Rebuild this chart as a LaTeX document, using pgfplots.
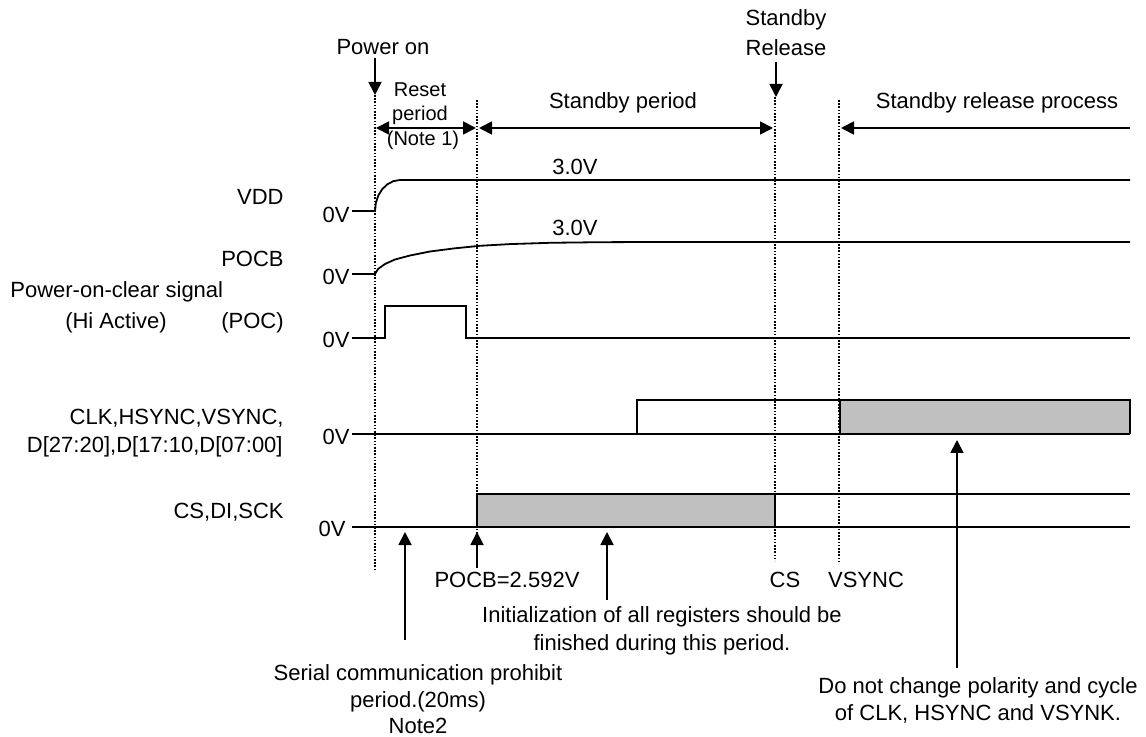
\documentclass[border=0pt]{standalone}
\usepackage{pgfplots}
\pgfplotsset{compat=1.18}
\usepackage{fontspec}
\setmainfont{Liberation Sans}
\usetikzlibrary{arrows.meta}
\definecolor{boxgray}{RGB}{192,192,192}
\begin{document}
\begin{tikzpicture}
\begin{axis}[
  width=573pt, height=368.5pt, scale only axis,
  xmin=0, xmax=1146, ymin=0, ymax=737, y dir=reverse,
  hide axis, clip=false,
  every axis plot/.append style={no markers},
]
% invisible frame to fix bounding box
\addplot[draw=none] coordinates {(0,0) (1146,737)};
% ---- grey areas ----
\addplot[fill=boxgray, draw=none] coordinates {(840,400) (1130,400) (1130,434) (840,434)} -- cycle;
\addplot[fill=boxgray, draw=none] coordinates {(477,494) (775,494) (775,527) (477,527)} -- cycle;
% ---- dotted guide lines ----
\tikzset{guide/.style={black, line width=0.7pt, dash pattern=on 0.8pt off 0.8pt}}
\addplot[guide] coordinates {(375,95) (375,571)};
\addplot[guide] coordinates {(477,100) (477,540)};
\addplot[guide] coordinates {(775,97) (775,561)};
\addplot[guide] coordinates {(839,100) (839,563)};
% ---- VDD ----
\addplot[black, line width=0.9pt] coordinates {(352,211) (375,211) (375.85,203) (378.3,195.5) (382.3,189.1) (387.5,184.2) (393.5,181.1) (400,180) (1130,180)};
% ---- POCB ----
\addplot[black, line width=0.9pt] coordinates {(352,274) (375,274) (378,269) (385,264) (395,259.5) (410,255.5) (430,251.5) (455,248.3) (480,245.8) (510,244.1) (550,242.8) (600,242.2) (650,242) (1130,242)};
% ---- POC ----
\addplot[black, line width=0.9pt] coordinates {(352,338) (385,338) (385,306) (466,306) (466,338) (1130,338)};
% ---- CLK ----
\addplot[black, line width=0.9pt] coordinates {(352,434) (1130,434)};
\addplot[black, line width=0.9pt] coordinates {(637,434) (637,400) (1130,400) (1130,434)};
\addplot[black, line width=0.9pt] coordinates {(840,400) (840,434)};
% ---- CS ----
\addplot[black, line width=0.9pt] coordinates {(352,527) (1130,527)};
\addplot[black, line width=0.9pt] coordinates {(477,527) (477,494) (1130,494)};
\addplot[black, line width=0.9pt] coordinates {(775,494) (775,527)};
% ---- arrows ----
\tikzset{hd/.tip={Triangle[length=6.5pt,width=6.5pt]}}
\addplot[black, line width=0.9pt, -hd] coordinates {(375,58) (375,95)};
\addplot[black, line width=0.9pt, -hd] coordinates {(776,62) (776,97)};
\addplot[black, line width=0.9pt, hd-hd] coordinates {(376,128) (476,128)};
\addplot[black, line width=0.9pt, hd-hd] coordinates {(479,128) (773,128)};
\addplot[black, line width=0.9pt, hd-] coordinates {(841,128) (1130,128)};
\addplot[black, line width=0.9pt, -hd] coordinates {(405,640) (405,532)};
\addplot[black, line width=0.9pt, -hd] coordinates {(477,568) (477,532)};
\addplot[black, line width=0.9pt, -hd] coordinates {(607,600) (607,532)};
\addplot[black, line width=0.9pt, -hd] coordinates {(957,668) (957,440)};
% ---- texts ----
\tikzset{lbl/.style={font=\fontsize{11}{13}\selectfont, inner sep=0pt}, sml/.style={font=\fontsize{10}{12}\selectfont, inner sep=0pt}}
\node[lbl] at (axis cs:383,47) {Power on};
\node[sml] at (axis cs:420,90) {Reset};
\node[sml] at (axis cs:420,115) {period};
\node[sml] at (axis cs:423,140) {(Note 1)};
\node[lbl] at (axis cs:623,103) {Standby period};
\node[lbl] at (axis cs:786,20) {Standby};
\node[lbl] at (axis cs:786,48) {Release};
\node[lbl] at (axis cs:997,103) {Standby release process};
\node[lbl] at (axis cs:575,167) {3.0V};
\node[lbl] at (axis cs:575,228) {3.0V};
\node[lbl, anchor=east] at (axis cs:284,197) {VDD};
\node[lbl, anchor=east] at (axis cs:284,259) {POCB};
\node[lbl, anchor=west] at (axis cs:10,292) {Power-on-clear signal};
\node[lbl] at (axis cs:116,323) {(Hi Active)};
\node[lbl, anchor=east] at (axis cs:284,323) {(POC)};
\node[lbl, anchor=east] at (axis cs:284,418) {CLK,HSYNC,VSYNC,};
\node[lbl, anchor=east] at (axis cs:283,447) {D[27:20],D[17:10,D[07:00]};
\node[lbl, anchor=east] at (axis cs:284,512) {CS,DI,SCK};
\node[lbl, anchor=east] at (axis cs:350,215) {0V};
\node[lbl, anchor=east] at (axis cs:350,277) {0V};
\node[lbl, anchor=east] at (axis cs:350,340) {0V};
\node[lbl, anchor=east] at (axis cs:350,437) {0V};
\node[lbl, anchor=east] at (axis cs:346,529) {0V};
\node[lbl] at (axis cs:507,580) {POCB=2.592V};
\node[lbl] at (axis cs:785,580) {CS};
\node[lbl] at (axis cs:866,580) {VSYNC};
\node[lbl] at (axis cs:662,617) {Initialization of all registers should be};
\node[lbl] at (axis cs:662,645) {finished during this period.};
\node[lbl] at (axis cs:418,675) {Serial communication prohibit};
\node[lbl] at (axis cs:418,702) {period.(20ms)};
\node[lbl] at (axis cs:418,726) {Note2};
\node[lbl] at (axis cs:978,688) {Do not change polarity and cycle};
\node[lbl] at (axis cs:978,714) {of CLK, HSYNC and VSYNK.};
\end{axis}
\end{tikzpicture}
\end{document}
